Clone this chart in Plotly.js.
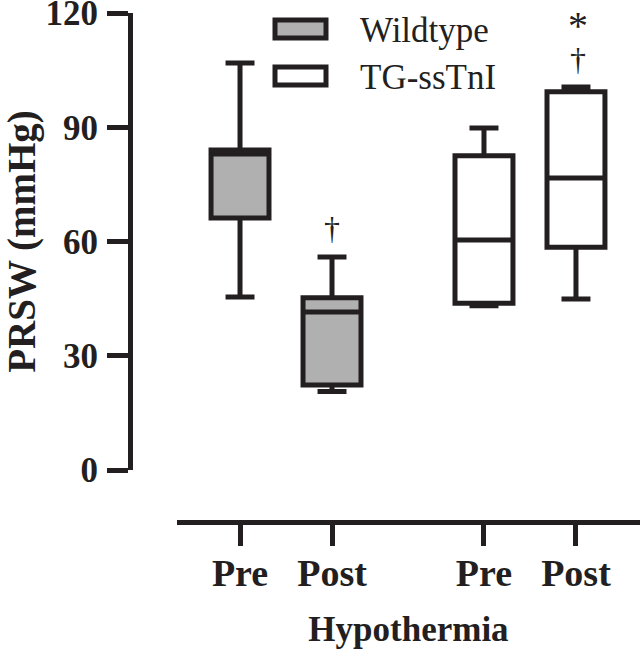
<!DOCTYPE html>
<html>
<head>
<meta charset="utf-8">
<script src="https://cdn.plot.ly/plotly-3.0.1.min.js"></script>
<style>html,body{margin:0;padding:0;background:#fff;}#chart{width:640px;height:649px;}</style>
</head>
<body>
<div id="chart"></div>
<script>
// ---- data ----
var groups = ['Wildtype', 'TG-ssTnI'];
var timepoints = ['Pre', 'Post'];
var wtLower  = [45.4, 20.6];
var wtQ1     = [66.2, 22.3];
var wtMedian = [83.0, 41.5];
var wtQ3     = [84.0, 45.2];
var wtUpper  = [106.9, 55.9];
var tgLower  = [43.1, 44.9];
var tgQ1     = [43.8, 58.5];
var tgMedian = [60.4, 76.7];
var tgQ3     = [82.5, 99.3];
var tgUpper  = [89.8, 100.6];
var yTicks = [0, 30, 60, 90, 120];

// ---- style ----
var INK = '#231f20';
var GRAY = '#b0b0b0';
var SERIF = 'Liberation Serif, Times New Roman, serif';
var W = 640, H = 649;
var M = {l: 130, r: 0, t: 13, b: 127};
var groupGap = 2.652;   // spacing between the two genotype groups, in time-slot units

function posFor(g) { return timepoints.map(function (_, i) { return g * groupGap + i; }); }
var wtX = posFor(0), tgX = posFor(1);
var tickVals = wtX.concat(tgX);
var tickText = timepoints.concat(timepoints);

var common = {
  type: 'box', boxpoints: false, width: 0.63, whiskerwidth: 0.5,
  line: {color: INK, width: 5}, hoverinfo: 'skip', showlegend: false
};
var wt = Object.assign({}, common, {
  name: groups[0], x: wtX, q1: wtQ1, median: wtMedian, q3: wtQ3,
  lowerfence: wtLower, upperfence: wtUpper, fillcolor: GRAY
});
var tg = Object.assign({}, common, {
  name: groups[1], x: tgX, q1: tgQ1, median: tgMedian, q3: tgQ3,
  lowerfence: tgLower, upperfence: tgUpper, fillcolor: '#ffffff'
});

var plotW = W - M.l - M.r, plotH = H - M.t - M.b;
function px2x(px) { return (px - M.l) / plotW; }
function px2y(py) { return (H - M.b - py) / plotH; }

var legendFill = [GRAY, '#ffffff'];
var shapes = [], annotations = [];
groups.forEach(function (g, i) {
  var top = 18 + i * 47;
  shapes.push({type: 'rect', xref: 'paper', yref: 'paper',
    x0: px2x(275), x1: px2x(326), y0: px2y(top + 20), y1: px2y(top + 2),
    fillcolor: legendFill[i], line: {color: INK, width: 5}});
  annotations.push({xref: 'paper', yref: 'paper', x: px2x(358), y: px2y(top + 12),
    xanchor: 'left', yanchor: 'middle', showarrow: false, text: g,
    font: {family: SERIF, size: 35, color: INK}});
});
// significance marks
annotations.push({xref: 'x', yref: 'y', x: wtX[1], y: 63.5, text: '\u2020', showarrow: false,
  font: {family: SERIF, size: 32, color: INK}});
annotations.push({xref: 'x', yref: 'paper', x: tgX[1] + 0.02, y: px2y(1), yanchor: 'top',
  text: '<span style="font-size:40px">*</span><br><span style="font-size:32px">\u2020</span>',
  showarrow: false, font: {family: SERIF, size: 24, color: INK}});

var layout = {
  width: W, height: H, margin: M,
  paper_bgcolor: '#ffffff', plot_bgcolor: '#ffffff',
  showlegend: false,
  xaxis: {
    domain: [px2x(177), 1], range: [-0.685, 4.348], anchor: 'free', position: 0,
    showgrid: false, zeroline: false, showline: true, linecolor: INK, linewidth: 5,
    ticks: 'outside', ticklen: 21, tickwidth: 5, tickcolor: INK,
    tickvals: tickVals, ticktext: tickText, ticklabelstandoff: -6,
    tickfont: {family: SERIF, size: 38, color: INK, weight: 'bold'},
    title: {text: 'Hypothermia', standoff: 26, font: {family: SERIF, size: 35, color: INK, weight: 'bold'}}
  },
  yaxis: {
    domain: [px2y(470), 1], range: [0, 120], anchor: 'free', position: 0,
    showgrid: false, zeroline: false, showline: true, linecolor: INK, linewidth: 5,
    ticks: 'outside', ticklen: 21, tickwidth: 5, tickcolor: INK,
    tickvals: yTicks, ticktext: yTicks.map(String), ticklabelstandoff: 2,
    ticklabeloverflow: 'allow',
    tickfont: {family: SERIF, size: 35, color: INK, weight: 'bold'},
    title: {text: 'PRSW (mmHg)', standoff: 13, font: {family: SERIF, size: 39, color: INK, weight: 'bold'}}
  },
  shapes: shapes, annotations: annotations
};

Plotly.newPlot('chart', [wt, tg], layout, {staticPlot: true, displayModeBar: false});
</script>
</body>
</html>
